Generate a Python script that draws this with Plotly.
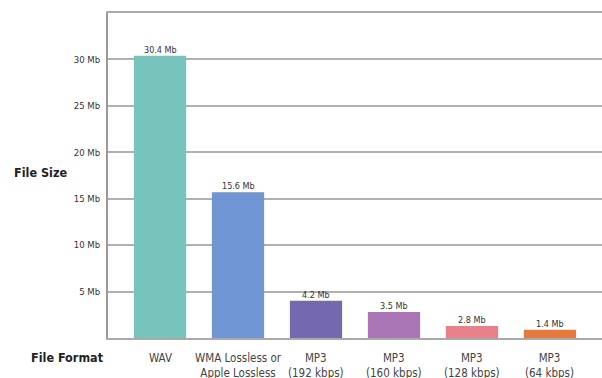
import plotly.graph_objects as go

categories = ["WAV", "WMA Lossless or<br>Apple Lossless", "MP3<br>(192 kbps)",
              "MP3<br>(160 kbps)", "MP3<br>(128 kbps)", "MP3<br>(64 kbps)"]
bar_heights = [30.4, 15.7, 4.0, 2.8, 1.3, 0.9]
value_labels = ["30.4 Mb", "15.6 Mb", "4.2 Mb", "3.5 Mb", "2.8 Mb", "1.4 Mb"]
colors = ["#77c4bc", "#6f96d2", "#7469b1", "#a975b5", "#e9818b", "#e67a3d"]
y_ticks = [5, 10, 15, 20, 25, 30]

FONT = "DejaVu Sans Condensed, Liberation Sans Narrow, Roboto Condensed, sans-serif"
W, H = 602, 378
L, R, T, B = 108, 0, 13, 40
pw, ph = W - L - R, H - T - B

xs = list(range(len(categories)))

fig = go.Figure()
fig.add_trace(go.Bar(x=xs, y=bar_heights, width=0.67, marker=dict(color=colors, line=dict(width=0)),
                     hoverinfo="skip"))

for i, (h, t) in enumerate(zip(bar_heights, value_labels)):
    fig.add_annotation(x=i, y=h, text=t, showarrow=False, yanchor="bottom", yshift=-1,
                       font=dict(family=FONT, size=9, color="#333"))
for i, c in enumerate(categories):
    fig.add_annotation(x=i, y=0, yref="paper", text=c, showarrow=False, yanchor="top", yshift=-11,
                       font=dict(family=FONT, size=11.5, color="#444"), align="center")

fig.add_annotation(x=(40 - L) / pw, y=(H - B - 172) / ph, xref="paper", yref="paper",
                   xanchor="center", yanchor="middle", text="<b>File Size</b>", showarrow=False,
                   font=dict(family=FONT, size=12.5, color="#222"))
fig.add_annotation(x=(67 - L) / pw, y=(H - B - 357) / ph, xref="paper", yref="paper",
                   xanchor="center", yanchor="middle", text="<b>File Format</b>", showarrow=False,
                   font=dict(family=FONT, size=12.5, color="#222"))

fig.update_layout(
    width=W, height=H, margin=dict(l=L, r=R, t=T, b=B),
    paper_bgcolor="white", plot_bgcolor="white", showlegend=False,
    xaxis=dict(range=[-0.667, 5.667], showticklabels=False, showgrid=False, zeroline=False,
               showline=True, mirror=True, linecolor="#aaaaaa", linewidth=2, ticks=""),
    yaxis=dict(range=[0, 35], tickvals=y_ticks, ticktext=[f"{v} Mb" for v in y_ticks],
               showgrid=True, gridcolor="#b0b0b0", gridwidth=1.5, zeroline=False,
               showline=True, linecolor="#999999", linewidth=2, ticks="outside", ticklen=0,
               ticklabelstandoff=4, tickfont=dict(family=FONT, size=9.5, color="#333")),
    font=dict(family=FONT),
)
fig.write_html("out.html")
